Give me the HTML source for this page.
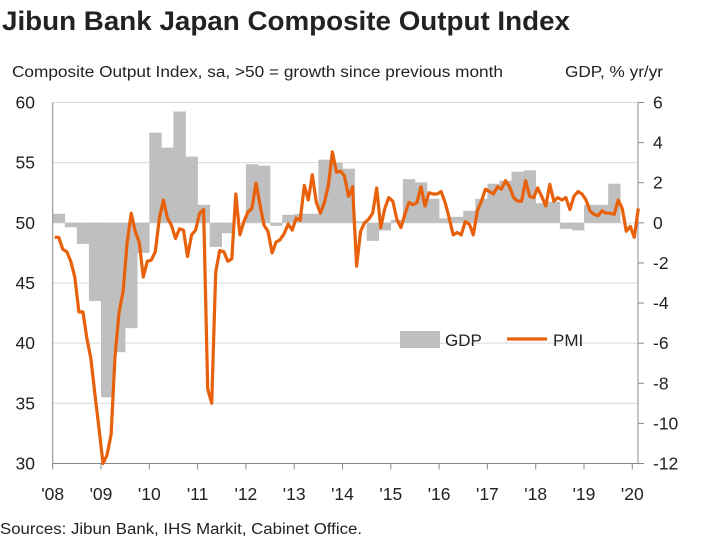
<!DOCTYPE html>
<html><head><meta charset="utf-8"><style>
body{margin:0;background:#fff;font-family:"Liberation Sans",sans-serif}
svg text{font-family:"Liberation Sans",sans-serif;fill:#222}
</style></head><body>
<svg width="704" height="547">
<text x="2" y="30" font-size="27" font-weight="bold" textLength="568" lengthAdjust="spacingAndGlyphs">Jibun Bank Japan Composite Output Index</text>
<text x="12" y="77" font-size="15.5" textLength="491" lengthAdjust="spacingAndGlyphs">Composite Output Index, sa, &gt;50 = growth since previous month</text>
<text x="565" y="77" font-size="15.5" textLength="98" lengthAdjust="spacingAndGlyphs">GDP, % yr/yr</text>
<g id="grid"></g><g id="bars"></g><g id="axes"></g><path id="pmi" fill="none" stroke="#e8600a" stroke-width="3.2" stroke-linejoin="round"/>
<g>
<rect x="400" y="331" width="40" height="17" fill="#bfbfbf"/>
<text x="445" y="346" font-size="17">GDP</text>
<line x1="507" y1="339" x2="547" y2="339" stroke="#e8600a" stroke-width="3.2"/>
<text x="553" y="346" font-size="17">PMI</text>
</g>
<text x="0" y="534" font-size="15.5" textLength="362" lengthAdjust="spacingAndGlyphs">Sources: Jibun Bank, IHS Markit, Cabinet Office.</text>
</svg>
<script>
const leftTicks=[30,35,40,45,50,55,60];
const rightTicks=[-12,-10,-8,-6,-4,-2,0,2,4,6];
const yearLabels=["'08","'09","'10","'11","'12","'13","'14","'15","'16","'17","'18","'19","'20"];
const gdp=[0.45,-0.22,-1.05,-3.9,-8.7,-6.45,-5.25,-1.5,4.5,3.75,5.55,3.3,0.9,-1.2,-0.52,0.0,2.92,2.85,-0.15,0.4,0.45,0.45,3.15,3.0,2.7,0.08,-0.9,-0.38,0.15,2.18,2.02,1.2,0.22,0.3,0.6,1.2,1.95,2.1,2.55,2.62,0.98,1.05,-0.3,-0.38,0.9,0.9,1.95];
const pmi=[48.8,48.8,47.8,47.6,46.8,45.5,42.6,42.6,40.4,38.7,35.7,32.9,30.0,30.7,32.4,39.0,42.6,44.3,48.4,50.8,49.3,48.4,45.5,46.8,46.9,47.6,50.4,51.9,50.4,49.8,48.7,49.5,49.4,47.2,49.0,49.4,50.8,51.1,36.2,35.0,45.9,47.7,47.6,46.8,47.0,52.4,49.0,50.1,50.9,51.2,53.3,51.5,49.8,49.3,47.5,48.4,48.6,49.1,49.9,49.4,50.4,50.2,53.1,51.9,54.0,51.7,50.8,51.7,53.1,55.9,54.2,54.3,53.9,52.2,53.0,46.4,49.3,50.0,50.3,50.8,52.9,49.6,51.2,52.1,51.8,50.3,49.6,50.7,51.7,51.5,51.7,53.0,51.4,52.5,52.4,52.4,52.6,51.7,50.4,49.0,49.2,49.0,50.1,49.9,49.0,51.0,51.8,52.8,52.6,52.4,53.0,52.8,53.5,53.0,52.1,51.8,51.8,53.5,52.2,52.1,52.9,52.2,51.4,53.2,51.8,52.1,51.9,52.1,51.1,52.2,52.6,52.4,51.9,51.0,50.7,50.6,51.0,50.8,50.8,50.7,51.9,51.2,49.3,49.7,48.8,51.2];
const X0=52.7,X1=638,YT=102.5,YB=463.5,MON=48.3/12;
const yL=v=>YB-(v-30)/30*(YB-YT);
const yR=v=>YB-(v+12)/18*(YB-YT);
const xM=i=>X0+MON*(i+0.5);
const ns="http://www.w3.org/2000/svg";
function mk(t,a,p){const e=document.createElementNS(ns,t);for(const k in a)e.setAttribute(k,a[k]);p.appendChild(e);return e;}
const grid=document.getElementById('grid'),axes=document.getElementById('axes'),bars=document.getElementById('bars');
leftTicks.forEach(v=>{
 const l=mk('line',{x1:X0,x2:X1,y1:yL(v),y2:yL(v),stroke:'#d9d9d9','stroke-width':1},grid);
 
 
 const t=mk('text',{x:35,y:yL(v)+6,'font-size':17.5,'text-anchor':'end'},axes);t.textContent=v;
 
 
});
rightTicks.forEach(v=>{
 mk('line',{x1:X1,x2:X1+6,y1:yR(v),y2:yR(v),stroke:'#888'},axes);
 const t=mk('text',{x:653,y:yR(v)+6,'font-size':17.5},axes);t.textContent=v;
 
 
});
gdp.forEach((v,q)=>{
 const x=X0+q*3*MON,y0=yR(0),y1=yR(v);
 const r=mk('rect',{x:x,y:Math.min(y0,y1),width:3*MON+0.3,height:Math.max(0.5,Math.abs(y1-y0)),fill:'#bfbfbf'},bars);
 
 
});
mk('line',{x1:X0,x2:X0,y1:YT,y2:YB,stroke:'#888'},axes);
mk('line',{x1:X1,x2:X1,y1:YT,y2:YB,stroke:'#888'},axes);
mk('line',{x1:X0,x2:X1,y1:YB,y2:YB,stroke:'#888'},axes);
yearLabels.forEach((s,i)=>{
 const x=X0+i*48.3;
 mk('line',{x1:x,x2:x,y1:YB,y2:YB+6,stroke:'#888'},axes);
 const t=mk('text',{x:x,y:500,'font-size':17.5,'text-anchor':'middle'},axes);t.textContent=s;
 
 
});
document.getElementById('pmi').setAttribute('d',pmi.map((v,i)=>(i?'L':'M')+xM(i).toFixed(1)+','+yL(v).toFixed(1)).join(''));
</script>
</body></html>
